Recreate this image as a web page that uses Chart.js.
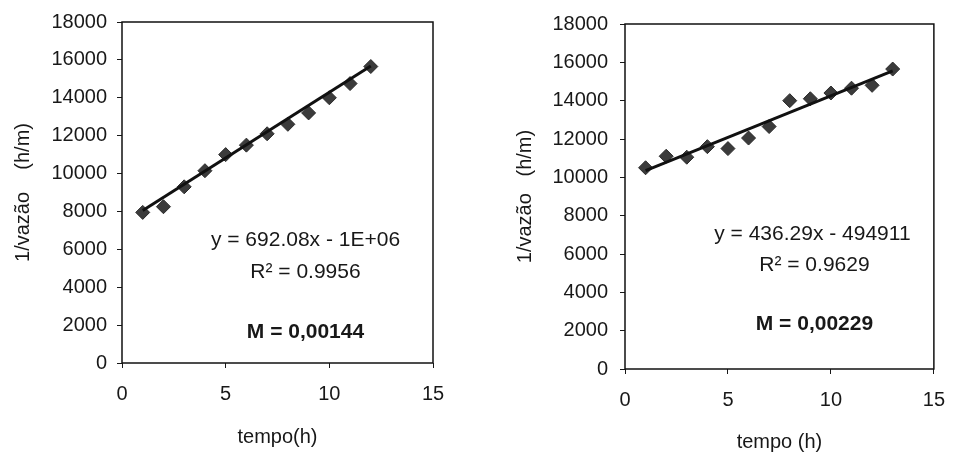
<!DOCTYPE html>
<html>
<head>
<meta charset="utf-8">
<script src="https://cdn.jsdelivr.net/npm/chart.js@4.4.0/dist/chart.umd.min.js"></script>
<style>
  body { margin: 0; background: #fff; }
  #wrap { position: relative; width: 959px; height: 455px; }
  canvas { position: absolute; top: 0; }
  #leftChart { left: 0; }
  #rightChart { left: 480px; }
</style>
</head>
<body>
<div id="wrap">
  <canvas id="leftChart" width="480" height="455"></canvas>
  <canvas id="rightChart" width="479" height="455"></canvas>
</div>
<script>
// data
const timeLeft = [1, 2, 3, 4, 5, 6, 7, 8, 9, 10, 11, 12];
const flowLeft = [7950, 8250, 9300, 10150, 11000, 11500, 12100, 12600, 13200, 14000, 14750, 15650];
const trendLeftX = [1, 12];
const trendLeftY = [8050, 15680];

const timeRight = [1, 2, 3, 4, 5, 6, 7, 8, 9, 10, 11, 12, 13];
const flowRight = [10500, 11100, 11050, 11600, 11500, 12050, 12650, 14000, 14100, 14400, 14650, 14800, 15650];
const trendRightX = [1, 13];
const trendRightY = [10350, 15560];

const xTicks = [0, 5, 10, 15];
const yTicks = [0, 2000, 4000, 6000, 8000, 10000, 12000, 14000, 16000, 18000];

const FONT = '"Liberation Sans", Arial, sans-serif';
const INK = '#181818';

const toPoints = (xs, ys) => xs.map((x, i) => ({ x: x, y: ys[i] }));

// box round the plot + the Excel style trendline labels
const frameAndNotes = {
  id: 'frameAndNotes',
  afterDraw(chart, args, opts) {
    const { ctx, chartArea: a, scales: { x, y } } = chart;
    ctx.save();
    ctx.strokeStyle = '#111';
    ctx.lineWidth = 1.5;
    ctx.strokeRect(a.left, a.top, a.right - a.left, a.bottom - a.top);
    ctx.fillStyle = INK;
    ctx.textAlign = 'center';
    ctx.textBaseline = 'middle';
    opts.notes.forEach(n => {
      ctx.font = (n.bold ? 'bold ' : '') + '21px ' + FONT;
      ctx.fillText(n.text, x.getPixelForValue(n.x), y.getPixelForValue(n.y));
    });
    ctx.restore();
  }
};

function makeChart(id, cfg) {
  const ctx = document.getElementById(id).getContext('2d');
  return new Chart(ctx, {
    type: 'scatter',
    data: {
      datasets: [
        {
          type: 'line',
          data: toPoints(cfg.trendX, cfg.trendY),
          borderColor: '#111',
          borderWidth: 3,
          pointRadius: 0,
          fill: false,
          order: 0
        },
        {
          data: toPoints(cfg.xs, cfg.ys),
          pointStyle: 'rectRot',
          pointRadius: 7,
          backgroundColor: '#3b3b3b',
          borderColor: '#2a2a2a',
          borderWidth: 1,
          order: 1
        }
      ]
    },
    options: {
      responsive: false,
      animation: false,
      layout: { padding: cfg.pad },
      plugins: {
        legend: { display: false },
        tooltip: { enabled: false },
        frameAndNotes: { notes: cfg.notes }
      },
      scales: {
        x: {
          type: 'linear',
          min: 0, max: 15,
          afterBuildTicks: s => { s.ticks = xTicks.map(v => ({ value: v })); },
          afterFit: s => { s.height = cfg.xH; },
          grid: { drawOnChartArea: false, drawTicks: true, tickLength: 5, color: INK },
          border: { display: false },
          ticks: { color: INK, font: { family: FONT, size: 20 }, padding: cfg.xTickPad, callback: v => v },
          title: { display: true, text: cfg.xTitle, color: INK, font: { family: FONT, size: 20 }, padding: { top: 0, bottom: cfg.xTitlePad } }
        },
        y: {
          type: 'linear',
          min: 0, max: 18000,
          afterBuildTicks: s => { s.ticks = yTicks.map(v => ({ value: v })); },
          afterFit: s => { s.width = cfg.yW; },
          grid: { drawOnChartArea: false, drawTicks: true, tickLength: 5, color: INK },
          border: { display: false },
          ticks: { color: INK, font: { family: FONT, size: 20 }, padding: cfg.yTickPad, callback: v => v },
          title: { display: true, text: cfg.yTitle, color: INK, font: { family: FONT, size: 20 }, padding: { top: cfg.yTitlePad, bottom: 0 } }
        }
      }
    },
    plugins: [frameAndNotes]
  });
}

makeChart('leftChart', {
  xs: timeLeft, ys: flowLeft, trendX: trendLeftX, trendY: trendLeftY,
  pad: { left: 0, top: 22, right: 47, bottom: 0 },
  yW: 122, xH: 92, xTickPad: 14, yTickPad: 10, xTitlePad: 6, yTitlePad: 11,
  xTitle: 'tempo(h)', yTitle: '1/vazão    (h/m)',
  notes: [
    { text: 'y = 692.08x - 1E+06', x: 8.85, y: 6490 },
    { text: 'R² = 0.9956', x: 8.85, y: 4800 },
    { text: 'M = 0,00144', x: 8.85, y: 1640, bold: true }
  ]
});

makeChart('rightChart', {
  xs: timeRight, ys: flowRight, trendX: trendRightX, trendY: trendRightY,
  pad: { left: 0, top: 18, right: 16, bottom: 0 },
  yW: 145, xH: 86, xTickPad: 14, yTickPad: 12, xTitlePad: 1, yTitlePad: 33,
  xTitle: 'tempo (h)', yTitle: '1/vazão   (h/m)',
  notes: [
    { text: 'y = 436.29x - 494911', x: 9.1, y: 7030 },
    { text: 'R² = 0.9629', x: 9.2, y: 5440 },
    { text: 'M = 0,00229', x: 9.2, y: 2360, bold: true }
  ]
});
</script>
</body>
</html>
